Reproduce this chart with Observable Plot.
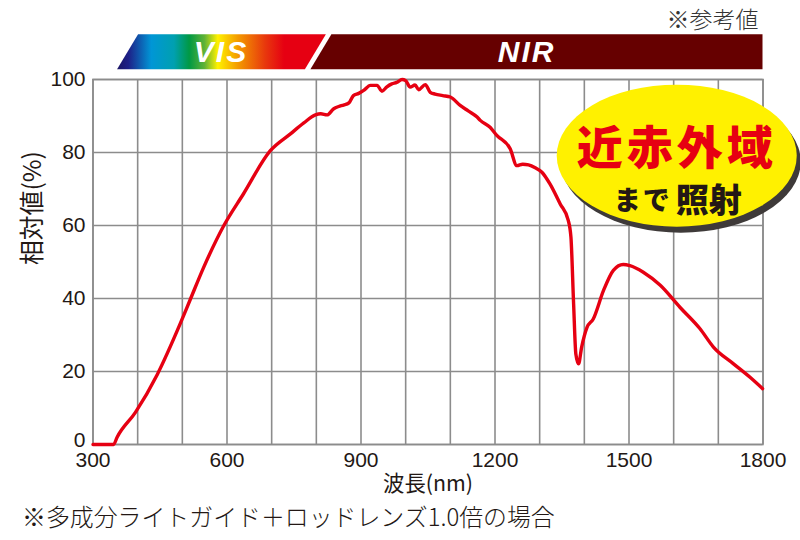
<!DOCTYPE html>
<html>
<head>
<meta charset="utf-8">
<script src="https://cdn.jsdelivr.net/npm/d3@7"></script>
<script src="https://cdn.jsdelivr.net/npm/@observablehq/plot@0.6"></script>
<style>
  html, body { margin: 0; padding: 0; background: #fff; }
  #chart { width: 800px; height: 540px; }
</style>
</head>
<body>
<div id="chart"></div>
<script>
// ---- data ----
const wavelength = [300, 346, 354, 395, 444, 496, 518, 548, 593, 637, 697, 742, 772, 798, 810, 824, 839, 850, 861, 873, 883, 895, 906, 921, 936, 947, 958, 969, 980, 992, 1000, 1010, 1021, 1029, 1044, 1055, 1066, 1083, 1100, 1122, 1140, 1160, 1167, 1189, 1204, 1234, 1249, 1262, 1275, 1290, 1305, 1323, 1346, 1364, 1370, 1376, 1381, 1387, 1394, 1406, 1420, 1443, 1465, 1487, 1502, 1532, 1570, 1614, 1659, 1689, 1734, 1771, 1799];
const relative   = [0,   0,   2,   8.8, 19.2, 33.3, 39.8, 48.6, 60,  68.7, 80.5, 85.1, 88.1, 90.3, 90.6, 90.3, 92,  92.6, 93,  93.6, 95.6, 96.2, 97,  98.4, 98.4, 96.8, 98,  98.8, 99.2, 100, 99.7, 97.9, 98.5, 97.2, 98.6, 96.5, 96,  95.6, 95.2, 92.9, 91.4, 89.7, 88.8, 86.9, 84.7, 81,  76.4, 76.8, 76.6, 75.8, 74.6, 71.4, 65.9, 61.4, 56.8, 38.5, 24.8, 22.1, 26.7, 32.1, 34.4, 42.2, 47.7, 49.3, 49,  47.2, 43.6, 37.6, 31.7, 26.7, 22.1, 18.4, 15.3];
const xTicks = [300, 600, 900, 1200, 1500, 1800];
const yTicks = [20, 40, 60, 80, 100];
const yZeroTick = [0];
const xGrid = d3.range(300, 1801, 100);
const yGrid = [0, 20, 40, 60, 80, 100];
const bandNames = ["VIS", "NIR"];
const bandEdges = [355, 780, 1800];   // nm: VIS start, VIS/NIR boundary, NIR end
const xTitle = "波長(nm)";
const yTitle = "相対値(%)";
const refNote = "※参考値";
const caption = "※多成分ライトガイド＋ロッドレンズ1.0倍の場合";
const badgeLine1 = "近赤外域";
const badgeLine2a = "まで";
const badgeLine2b = "照射";
const badgeCenter = {x: 1608, y: 79};  // in data units

const data = wavelength.map((w, i) => ({w, v: relative[i]}));

const RED = "#e60012";
const GRID = "#8c8c8c";
const INK = "#231815";
const FONT = "'Liberation Sans', 'Noto Sans CJK JP', sans-serif";
const JFONT = "'Noto Sans CJK JP', 'Liberation Sans', sans-serif";

const chart = Plot.plot({
  width: 800,
  height: 540,
  marginLeft: 92.5,
  marginRight: 37.5,
  marginTop: 79,
  marginBottom: 96,
  style: {fontFamily: FONT, color: INK, background: "#fff", overflow: "visible"},
  x: {domain: [300, 1800]},
  y: {domain: [0, 100]},
  marks: [
    Plot.gridX(xGrid, {stroke: GRID, strokeOpacity: 1, strokeWidth: 1.6}),
    Plot.gridY(yGrid, {stroke: GRID, strokeOpacity: 1, strokeWidth: 1.6}),
    Plot.frame({stroke: GRID, strokeWidth: 1.6}),
    Plot.axisX(xTicks, {tickSize: 0, tickPadding: 8, fontSize: 21, label: null, fill: INK, tickFormat: d => String(d)}),
    Plot.axisY(yTicks, {tickSize: 0, tickPadding: 7.5, fontSize: 21, label: null, fill: INK, tickFormat: d => String(d)}),
    Plot.axisY(yZeroTick, {tickSize: 0, tickPadding: 7.5, fontSize: 21, label: null, fill: INK, dy: -4, tickFormat: d => String(d)}),
    Plot.text([xTitle], {text: d => d, frameAnchor: "bottom", dy: 46, fontSize: 22, fill: INK, fontFamily: JFONT}),
    Plot.text([yTitle], {text: d => d, frameAnchor: "left", dx: -60, dy: 3, rotate: -90, fontSize: 22, fill: INK, fontFamily: JFONT}),
    Plot.text([caption], {text: d => d, frameAnchor: "bottom-left", textAnchor: "start", dx: -71, dy: 81, fontSize: 23, fill: INK, fontFamily: JFONT, fontWeight: 300}),
    Plot.text([refNote], {text: d => d, frameAnchor: "top-right", textAnchor: "end", dx: -4.5, dy: -68, fontSize: 23, fill: "#333", fontFamily: JFONT, fontWeight: 300}),
    Plot.line(data, {x: "w", y: "v", stroke: RED, strokeWidth: 3.4, curve: "monotone-x"})
  ]
});

document.getElementById("chart").appendChild(chart);

// ---- fit the annotation texts to the widths they take in the reference ----
const targetWidths = new Map([[caption, 533], [refNote, 92], [xTitle, 90], [yTitle, 114]]);
d3.select(chart).selectAll("text").each(function () {
  const w = targetWidths.get(this.textContent);
  if (!w) return;
  const fs = parseFloat(getComputedStyle(this).fontSize);
  const len = this.getComputedTextLength();
  if (len > 0) this.style.fontSize = (fs * w / len).toFixed(2) + "px";
});

// ---- decorations positioned through the plot's scales ----
const sx = chart.scale("x");
const sy = chart.scale("y");
const svg = d3.select(chart);
const defs = svg.append("defs");
const grad = defs.append("linearGradient").attr("id", "visgrad")
  .attr("gradientUnits", "userSpaceOnUse")
  .attr("x1", sx.apply(bandEdges[0])).attr("x2", sx.apply(bandEdges[1])).attr("y1", 0).attr("y2", 0);
[[0, "#1b1464"], [0.06, "#1d2088"], [0.18, "#0096d6"], [0.30, "#00a0b0"], [0.38, "#009944"], [0.46, "#5fb236"], [0.53, "#fff100"], [0.64, "#f39800"], [0.78, "#e8380d"], [0.88, "#e60012"], [1, "#e60012"]]
  .forEach(([o, c]) => grad.append("stop").attr("offset", o).attr("stop-color", c));

const bandTop = 34.3, bandBot = 69.3, slant = 21;
const xVis0 = sx.apply(bandEdges[0]);
const xDiv = sx.apply(bandEdges[1]);
const xEnd = sx.apply(bandEdges[2]);
const g = svg.append("g");
g.append("polygon")
  .attr("points", `${xVis0},${bandBot} ${xVis0 + slant},${bandTop} ${xDiv + slant - 2},${bandTop} ${xDiv - 2},${bandBot}`)
  .attr("fill", "url(#visgrad)");
g.append("polygon")
  .attr("points", `${xDiv + 3.5},${bandBot} ${xDiv + slant + 3.5},${bandTop} ${xEnd},${bandTop} ${xEnd},${bandBot}`)
  .attr("fill", "#660000");
g.append("text").text(bandNames[0])
  .attr("x", (xVis0 + xDiv) / 2 + 9).attr("y", 61.5)
  .attr("text-anchor", "middle").attr("fill", "#fff")
  .attr("font-family", "'Liberation Sans', sans-serif").attr("font-weight", "bold").attr("font-style", "italic")
  .attr("font-size", 30).attr("letter-spacing", 2);
g.append("text").text(bandNames[1])
  .attr("x", (xDiv + xEnd) / 2 - 8).attr("y", 61.5)
  .attr("text-anchor", "middle").attr("fill", "#fff")
  .attr("font-family", "'Liberation Sans', sans-serif").attr("font-weight", "bold").attr("font-style", "italic")
  .attr("font-size", 30).attr("letter-spacing", 2);

// badge
const bx = sx.apply(badgeCenter.x), by = sy.apply(badgeCenter.y);
const b = svg.append("g");
b.append("ellipse").attr("cx", bx + 4).attr("cy", by + 6).attr("rx", 120).attr("ry", 71).attr("fill", "#3e3a39");
b.append("ellipse").attr("cx", bx).attr("cy", by).attr("rx", 120).attr("ry", 71).attr("fill", "#fff100");
b.append("text").text(badgeLine1)
  .attr("x", bx).attr("y", by - 12).attr("dominant-baseline", "central")
  .attr("text-anchor", "middle").attr("fill", RED)
  .attr("font-family", JFONT).attr("font-weight", 900).attr("font-size", 46).attr("letter-spacing", 4);
const t2 = b.append("text")
  .attr("x", bx + 1).attr("y", by + 42).attr("dominant-baseline", "central")
  .attr("text-anchor", "middle").attr("fill", INK)
  .attr("font-family", JFONT).attr("font-weight", 900);
t2.append("tspan").text(badgeLine2a).attr("font-size", 27).attr("letter-spacing", 2);
t2.append("tspan").text(badgeLine2b).attr("font-size", 33).attr("dx", 4);
</script>
</body>
</html>
